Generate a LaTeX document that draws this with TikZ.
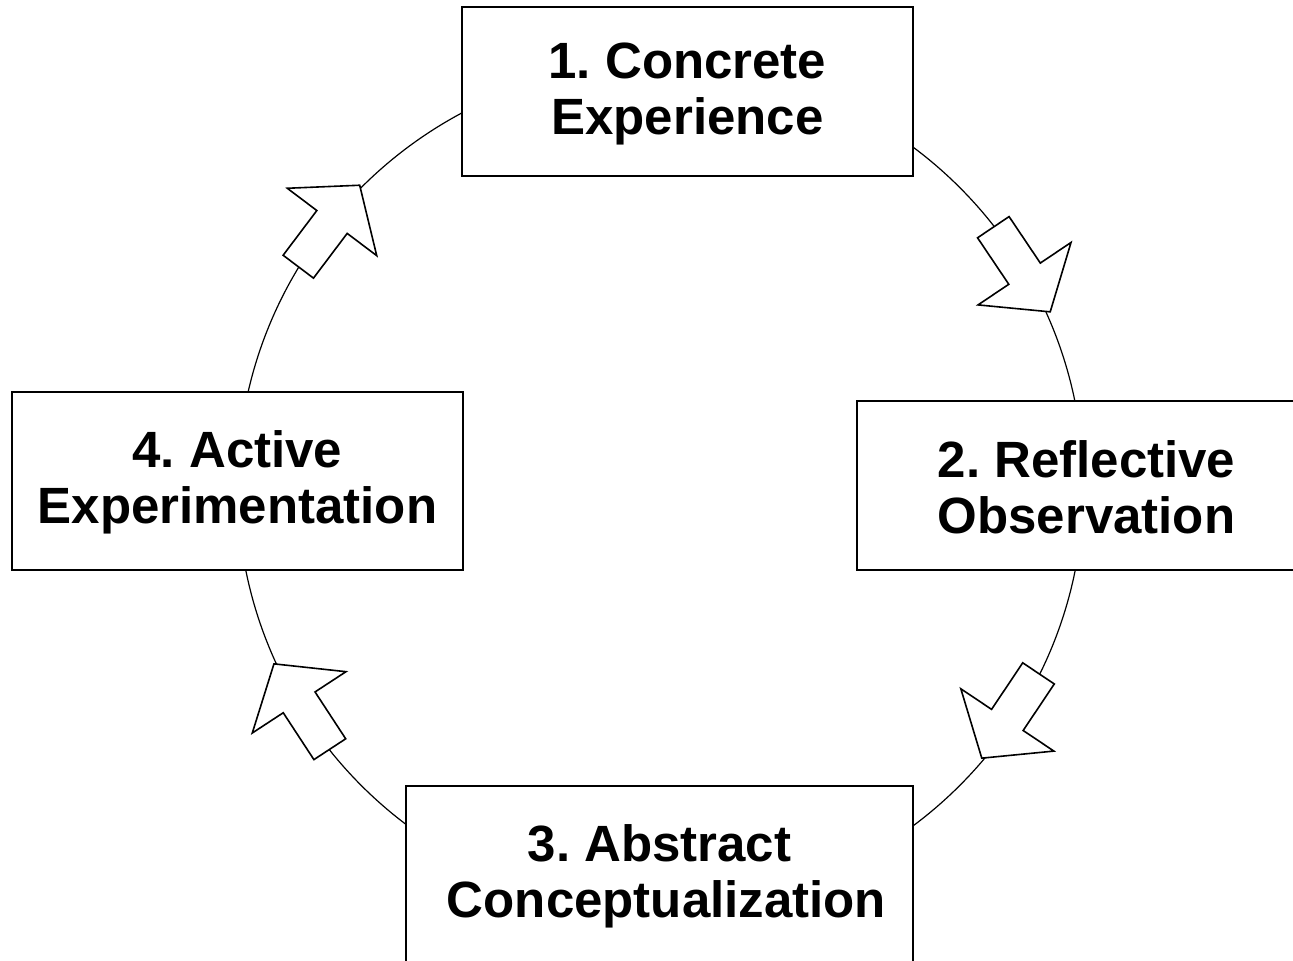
\documentclass[tikz,border=0pt]{standalone}
\usepackage{fontspec}
\setmainfont{Liberation Sans}
\frenchspacing
\begin{document}
\begin{tikzpicture}[x=0.5pt,y=0.5pt,
  box/.style={draw, line width=0.9pt, fill=white, inner sep=0pt, align=center,
    font=\fontsize{25.5pt}{28pt}\selectfont\bfseries},
  cycleline/.style={line width=0.6pt},
  blockarrow/.style={draw, fill=white, line width=0.8pt, line join=miter},
  blockarr/.pic={\draw[blockarrow] (0,-19) -- (56,-19) -- (56,-56) -- (102,0) -- (56,56) -- (56,19) -- (0,19) -- cycle;}]
\useasboundingbox (0,0) rectangle (1293,-961);
\begin{scope}
\clip (0,0) rectangle (1293,-961);
\coordinate (centre) at (660.5,-486.5);
\draw[cycleline] (centre) circle[radius=211.5pt];
\pic[rotate=-56.1] (a12) at (993.3,-227.2) {blockarr};
\pic[rotate=-123.8] (a23) at (1038.5,-673.4) {blockarr};
\pic[rotate=123.2] (a34) at (329.8,-749.2) {blockarr};
\pic[rotate=53] (a41) at (298.3,-266.7) {blockarr};
\node[box, minimum width=225.5pt, minimum height=84.5pt] (ce) at (687.5,-91.5) {\rule{0pt}{20pt}1. Concrete\\Experience};
\node[box, minimum width=229.5pt, minimum height=84.5pt] (ro) at (1086.5,-485.5) {\rule{0pt}{20pt}2. Reflective\\Observation};
\node[box, minimum width=253.5pt, minimum height=89pt] (ac) at (659.5,-875) {\rule{0pt}{20pt}3. Abstract\\\hspace*{7pt}Conceptualization};
\node[box, minimum width=225.5pt, minimum height=89pt] (ae) at (237.5,-481) {\rule{0pt}{20pt}4. Active\\Experimentation};
\end{scope}
\end{tikzpicture}
\end{document}
